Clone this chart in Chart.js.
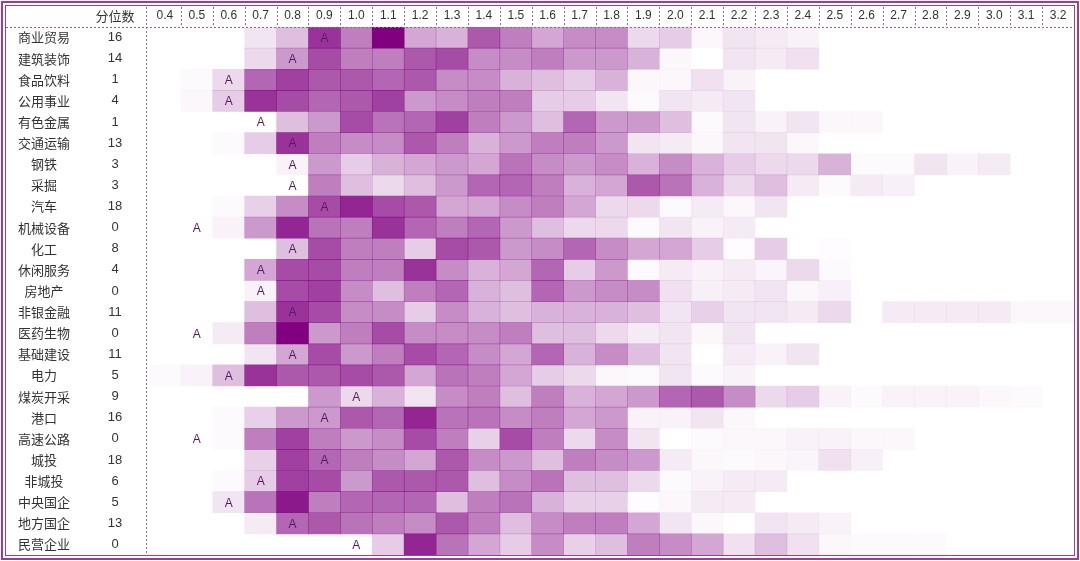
<!DOCTYPE html>
<html lang="zh">
<head>
<meta charset="UTF-8">
<title>分位数热力图</title>
<script src="https://cdn.jsdelivr.net/npm/chart.js@4.4.0/dist/chart.umd.min.js"></script>
<style>
  html, body { margin: 0; padding: 0; background: #fff; }
  #wrap { width: 1080px; height: 561px; }
</style>
</head>
<body>
<div id="wrap"><canvas id="heat"></canvas></div>
<script>
// row labels and their quantile numbers
const industries = ['商业贸易','建筑装饰','食品饮料','公用事业','有色金属','交通运输','钢铁','采掘','汽车','机械设备','化工','休闲服务','房地产','非银金融','医药生物','基础建设','电力','煤炭开采','港口','高速公路','城投','非城投','中央国企','地方国企','民营企业'];
const quantiles = [16,14,1,4,1,13,3,3,18,0,8,4,0,11,0,11,5,9,16,0,18,6,5,13,0];
// column (bin) labels
const bins = [0.4,0.5,0.6,0.7,0.8,0.9,1.0,1.1,1.2,1.3,1.4,1.5,1.6,1.7,1.8,1.9,2.0,2.1,2.2,2.3,2.4,2.5,2.6,2.7,2.8,2.9,3.0,3.1,3.2];
// bin of the "A" mark in each row
const markBin = [0.9,0.8,0.6,0.6,0.7,0.8,0.8,0.8,0.9,0.5,0.8,0.7,0.7,0.8,0.5,0.8,0.6,1.0,0.9,0.5,0.9,0.7,0.6,0.8,1.0];

// shade intensity 0..10, one row per industry, one value per bin
const shade = [
  [0,0,0,1,2.5,8,5,10,3.5,3,6.5,5,3.5,4.5,4.5,1.5,2,0.3,1,0.8,0.5,0,0,0,0,0,0,0,0],
  [0,0,0,1.5,4,7,5,5,6.5,7,4.5,4.5,5,4,4,3,0.3,0,1,0.8,1.2,0,0,0,0,0,0,0,0],
  [0,0.2,1.5,6,7.5,6.5,6.5,6,6.5,4.5,4.5,3,2.5,2,3,0.3,0.3,1.2,0.5,0,0,0,0,0,0,0,0,0,0],
  [0,0.3,2,8,7,6,6.5,7.5,4,4.5,5,5,2,2,1,0.2,1,0.8,1,0,0,0,0,0,0,0,0,0,0],
  [0,0,0,0,2.5,4,7,5.5,6,7.5,5,4,2.5,6,4,4,2.5,0.2,1,0.5,1,0.3,0.3,0,0,0,0,0,0],
  [0,0,0.2,2,8,5,4.5,4.5,6.5,5,3,4,5,5,4,1,0.8,0.3,1,1,0.3,0,0,0,0,0,0,0,0],
  [0,0,0,0,0.5,4,2,3,3.5,4,3.5,5.5,4.5,4,4.5,3,4.5,3,2,1.5,1.5,3,0.2,0.2,1,0.5,0.8,0,0],
  [0,0,0,0,0,5,2.5,1.5,2.5,4,6,6,5,3,3.5,6.5,5.5,3,1.5,2.5,0.8,0.2,0.8,0.6,0,0,0,0,0],
  [0,0,0.2,1.8,4.5,7,8.5,7,6.5,3.5,3.5,4.5,5,3.5,1.5,1.5,0.2,0.8,0.3,1,0,0,0,0,0,0,0,0,0],
  [0,0,0.5,4,8.5,5.5,5,8,6,5,6,4,2.5,1.5,1.5,0.2,1,0.5,0.8,0,0,0,0,0,0,0,0,0,0],
  [0,0,0,0,2.5,7,5,5,2,7,6.5,4,4.5,6,4.5,3.5,3.5,2,0.1,2,0,0.1,0,0,0,0,0,0,0],
  [0,0,0,3.5,7,7,5,5,8,4.5,3,3.5,6,2,4,0.2,0.8,0.5,0.8,0.4,1.5,0.2,0,0,0,0,0,0,0],
  [0,0,0,0.5,7,7.5,4.5,2.5,5,6,3,2.5,6,4,4.5,4.5,1.2,0.6,0.8,1,0.3,0.6,0,0,0,0,0,0,0],
  [0,0,0,2.5,8,7,4.5,4.5,2,4.5,3,2.5,3,3,3,2.5,1,1.8,1,1,0.8,1.5,0,0.8,0.8,0.8,0.8,0.3,0.3],
  [0,0,0.8,5,10,4,5,7,4.5,4.5,4.5,5,2.5,2.5,1.5,0.8,1,0.3,1,0,0,0,0,0,0,0,0,0,0],
  [0,0,0,1,3.5,7,4,5,7,6,4.5,3.5,6,3,4.5,2.5,1,0,0.8,0.5,1,0,0,0,0,0,0,0,0],
  [0.2,0.5,2.5,8,6.5,6.5,7,6.5,3.5,5.5,5,3.5,2,1.5,0.3,0.2,1,0.2,0.5,0,0,0,0,0,0,0,0,0,0],
  [0,0,0,0,0,4,1.5,3,1,4.5,5,2.5,5,3,3.5,4,6,6.5,4.5,1.5,2,0.5,0.2,0.5,0.5,0.5,0.3,0.2,0],
  [0,0,0.2,1.8,4,4,6.5,6,8.5,5.5,5.5,4.5,5,3.5,4,0.5,0.5,1,0.3,0,0,0,0,0,0,0,0,0,0],
  [0,0,0.2,5,7.5,5,4,4.5,7,5,1.8,7,5,1.5,4.5,1,0,0.2,0.3,0.3,0.5,0.5,0.3,0.3,0,0,0,0,0],
  [0,0,0,1.8,7.5,6,5,4.5,3.5,6.5,4.5,4,2.5,5,4.5,4,0.8,0.3,0.2,0.3,0.4,1.2,0.6,0,0,0,0,0,0],
  [0,0,0.2,2,7.5,7,4,6.5,6.5,6.5,2.5,4.5,5.5,2.5,2.5,1.5,0.2,0.5,0.8,0.8,0,0,0,0,0,0,0,0,0],
  [0,0,1,5.5,9,5,6,6,6,2.5,5,5.5,3,1.8,1.8,0.1,0.3,0.8,0.8,0,0,0,0,0,0,0,0,0,0],
  [0,0,0,0.8,6,6.5,5.5,5,4.5,6.5,5,2.5,4.5,5,5,3.5,1,0.3,0,1,0.8,0.5,0,0,0,0,0,0,0],
  [0,0,0,0,0,0,0,2,8.5,5.5,3.5,2,4.5,1.8,2.5,5,4.5,3.5,1.2,2.5,1.2,0.3,0.2,0.2,0.2,0,0,0,0]
];

const shadeColor = v => `rgba(128,0,128,${(v / 10).toFixed(3)})`;

// one floating-bar dataset per bin column
const datasets = bins.map((b, j) => ({
  data: industries.map(() => [b - 0.05, b + 0.05]),
  backgroundColor: shade.map(row => shadeColor(row[j])),
  borderWidth: 0,
  borderSkipped: false,
  barPercentage: 1,
  categoryPercentage: 1,
  grouped: false
}));

const framePlugin = {
  id: 'frame',
  afterDraw(chart) {
    const ctx = chart.ctx;
    const xs = chart.scales.x, ys = chart.scales.y;
    const area = chart.chartArea;
    const W = chart.width, H = chart.height;
    ctx.save();

    // "A" marks
    ctx.font = '12px "Liberation Sans", Arial, sans-serif';
    ctx.fillStyle = '#5a1860';
    ctx.textAlign = 'center';
    ctx.textBaseline = 'middle';
    industries.forEach((name, i) => {
      ctx.fillText('A', xs.getPixelForValue(markBin[i]), ys.getPixelForValue(i) + 1);
    });

    // left table
    ctx.fillStyle = '#333';
    ctx.font = '13px "Noto Sans CJK SC", sans-serif';
    industries.forEach((name, i) => {
      const y = ys.getPixelForValue(i);
      ctx.fillText(name, 44, y);
      ctx.font = '13px "Liberation Sans", Arial, sans-serif';
      ctx.fillText(String(quantiles[i]), 115, y);
      ctx.font = '13px "Noto Sans CJK SC", sans-serif';
    });

    // header
    const headY = 16;
    ctx.fillText('分位数', 115, headY);
    ctx.font = '12px "Liberation Sans", Arial, sans-serif';
    bins.forEach(b => ctx.fillText(b.toFixed(1), xs.getPixelForValue(b), headY));

    ctx.strokeStyle = '#a05aa8';
    ctx.lineWidth = 1;
    ctx.setLineDash([2, 2]);
    ctx.beginPath();
    ctx.moveTo(6, area.top + 0.5); ctx.lineTo(W - 5, area.top + 0.5);
    ctx.moveTo(146.5, 7); ctx.lineTo(146.5, area.bottom);
    bins.forEach((b, j) => {
      if (j === 0) return;
      const x = Math.round(xs.getPixelForValue(b - 0.05)) + 0.5;
      ctx.moveTo(x, 7); ctx.lineTo(x, area.top);
    });
    ctx.stroke();
    ctx.setLineDash([]);

    // double frame
    ctx.strokeStyle = '#9a3ca2';
    ctx.lineWidth = 2;
    ctx.strokeRect(2, 2, W - 4, H - 4);
    ctx.lineWidth = 1;
    ctx.strokeRect(5.5, 5.5, W - 11, H - 11);
    ctx.restore();
  }
};

new Chart(document.getElementById('heat'), {
  type: 'bar',
  data: { labels: industries, datasets },
  options: {
    indexAxis: 'y',
    responsive: true,
    maintainAspectRatio: false,
    animation: false,
    layout: { padding: { left: 149, right: 6, top: 27, bottom: 6 } },
    scales: {
      x: { type: 'linear', min: 0.35, max: 3.25, display: false },
      y: { type: 'category', display: false, offset: true }
    },
    plugins: { legend: { display: false }, tooltip: { enabled: false } }
  },
  plugins: [framePlugin]
});
</script>
</body>
</html>
